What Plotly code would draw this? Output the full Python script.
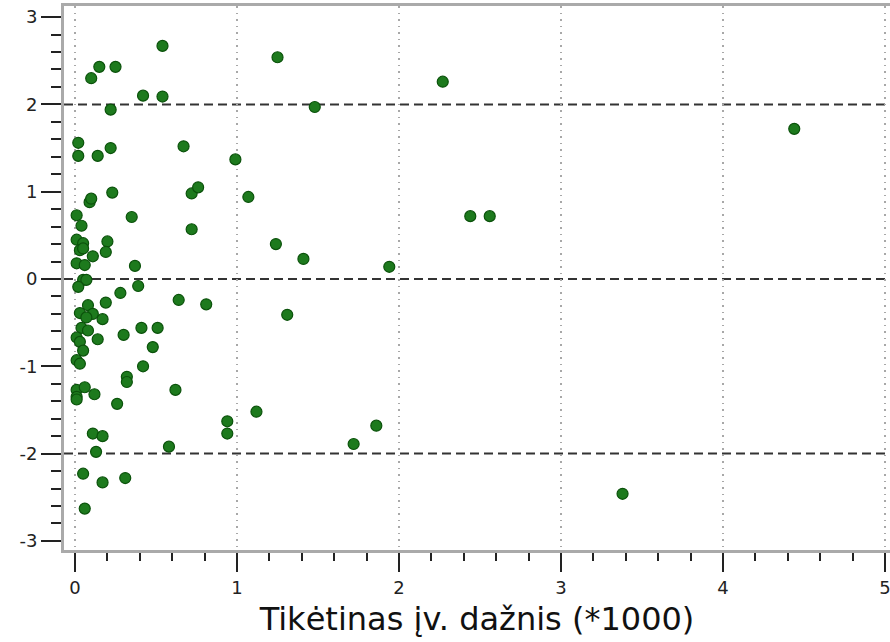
import plotly.graph_objects as go

# Expected frequency (*1000) and residuals
x_vals = [0.54, 0.10, 0.15, 0.25, 0.42, 0.54, 0.22, 1.25, 2.27, 1.48, 4.44,
          0.02, 0.02, 0.14, 0.22, 0.67, 0.99, 0.23, 0.09, 0.10, 0.72, 0.76,
          1.07, 0.35, 0.01, 0.04, 0.72, 1.24, 1.41, 1.94, 2.44, 2.56, 0.01,
          0.05, 0.20, 0.03, 0.05, 0.11, 0.19, 0.01, 0.06, 0.37, 0.05, 0.07,
          0.02, 0.39, 0.28, 0.64, 0.81, 1.31, 0.19, 0.08, 0.03, 0.11, 0.07,
          0.17, 0.04, 0.08, 0.41, 0.51, 0.30, 0.01, 0.03, 0.14, 0.48, 0.05,
          0.01, 0.03, 0.42, 0.32, 0.32, 0.01, 0.06, 0.01, 0.01, 0.12, 0.62,
          0.26, 0.94, 0.94, 1.12, 0.11, 0.17, 0.58, 0.13, 0.05, 0.17, 0.31,
          0.06, 1.72, 1.86, 3.38]
y_vals = [2.67, 2.30, 2.43, 2.43, 2.10, 2.09, 1.94, 2.54, 2.26, 1.97, 1.72,
          1.56, 1.41, 1.41, 1.50, 1.52, 1.37, 0.99, 0.88, 0.92, 0.98, 1.05,
          0.94, 0.71, 0.73, 0.61, 0.57, 0.40, 0.23, 0.14, 0.72, 0.72, 0.45,
          0.41, 0.43, 0.33, 0.35, 0.26, 0.31, 0.18, 0.16, 0.15, -0.01, -0.01,
          -0.09, -0.08, -0.16, -0.24, -0.29, -0.41, -0.27, -0.30, -0.39, -0.40, -0.44,
          -0.46, -0.56, -0.59, -0.56, -0.56, -0.64, -0.67, -0.72, -0.69, -0.78, -0.82,
          -0.93, -0.97, -1.00, -1.12, -1.18, -1.27, -1.24, -1.35, -1.38, -1.32, -1.27,
          -1.43, -1.63, -1.77, -1.52, -1.77, -1.80, -1.92, -1.98, -2.23, -2.33, -2.28,
          -2.63, -1.89, -1.68, -2.46]

x_ticks = [0, 1, 2, 3, 4, 5]
x_tick_labels = ["0", "1", "2", "3", "4", "5"]
y_ticks = [-3, -2, -1, 0, 1, 2, 3]
y_tick_labels = ["-3", "-2", "-1", "0", "1", "2", "3"]
ref_lines = [-2, 0, 2]
x_title = "Tikėtinas įv. dažnis (*1000)"

FONT = "DejaVu Sans"

fig = go.Figure()
fig.add_trace(go.Scatter(
    x=x_vals, y=y_vals, mode="markers",
    marker=dict(size=11, color="#1d7a1d", line=dict(color="#0b520b", width=1.2)),
    showlegend=False, hoverinfo="skip", cliponaxis=False,
))

for r in ref_lines:
    fig.add_hline(y=r, line=dict(color="#333333", width=2, dash="9px,5px"), layer="below")

fig.update_layout(
    width=890, height=642,
    margin=dict(l=64, r=0, t=6, b=92),
    paper_bgcolor="white", plot_bgcolor="white",
    font=dict(family=FONT, color="#222222"),
    xaxis=dict(
        range=[-0.068, 5.031],
        tickvals=x_ticks, ticktext=x_tick_labels,
        ticks="outside", ticklen=19, tickwidth=2, tickcolor="#222222",
        tickfont=dict(size=18, family=FONT, color="#222222"),
        ticklabeloverflow="allow",
        minor=dict(dtick=0.2, ticks="outside", ticklen=8, tickwidth=1.5,
                   tickcolor="#222222", showgrid=False),
        showgrid=True, gridcolor="#a8a8a8", gridwidth=1.5, griddash="1.5px,5px",
        showline=True, linecolor="#aaaaaa", linewidth=3, mirror=True,
        zeroline=False,
        title=dict(text=x_title, font=dict(size=32, family=FONT, color="#111111"),
                   standoff=12),
    ),
    yaxis=dict(
        range=[-3.104, 3.127],
        tickvals=y_ticks, ticktext=y_tick_labels,
        ticks="outside", ticklen=20, tickwidth=2, tickcolor="#222222",
        tickfont=dict(size=18, family=FONT, color="#222222"),
        minor=dict(dtick=0.2, ticks="outside", ticklen=10, tickwidth=1.5,
                   tickcolor="#222222", showgrid=False),
        showgrid=False,
        showline=True, linecolor="#aaaaaa", linewidth=3,
        zeroline=False,
    ),
)

fig.write_html("out.html")
